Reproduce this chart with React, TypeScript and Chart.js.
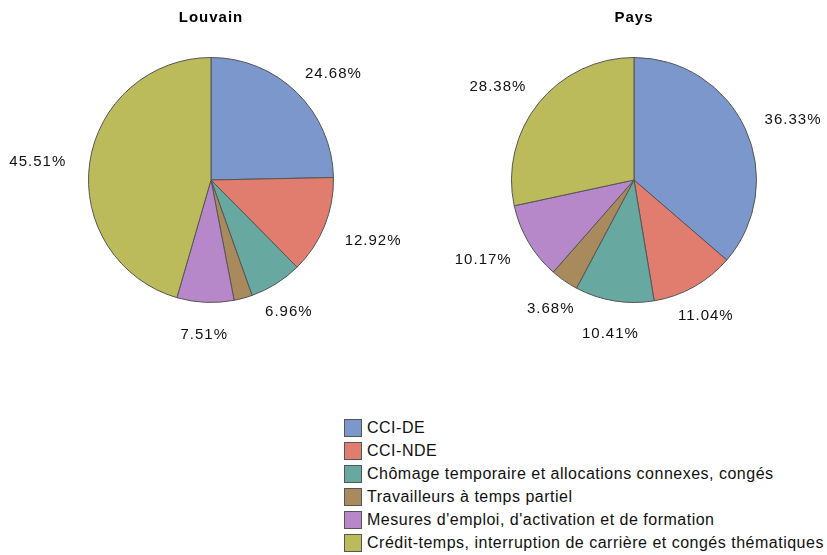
import React, { useEffect, useRef } from "react";
import { Chart, registerables } from "chart.js";

Chart.register(...registerables);

const categories = [
  "CCI-DE",
  "CCI-NDE",
  "Chômage temporaire et allocations connexes, congés",
  "Travailleurs à temps partiel",
  "Mesures d'emploi, d'activation et de formation",
  "Crédit-temps, interruption de carrière et congés thématiques",
];
const louvainValues = [24.68, 12.92, 6.96, 2.42, 7.51, 45.51];
const paysValues = [36.33, 11.04, 10.41, 3.68, 10.17, 28.38];
const colors = ["#7b97cc", "#e07d6f", "#67a8a0", "#a98a5c", "#b688c9", "#bcbb5b"];
const titles = ["Louvain", "Pays"];
const minLabelValue = 3;

const FONT = "'Liberation Sans', Arial, sans-serif";

const pieLabelPlugin = {
  id: "pieLabels",
  afterDatasetsDraw(chart: any, _args: any, opts: any) {
    const ctx = chart.ctx as CanvasRenderingContext2D;
    const meta = chart.getDatasetMeta(0);
    const values = chart.data.datasets[0].data as number[];
    ctx.save();
    ctx.font = `15px ${FONT}`;
    (ctx as any).letterSpacing = "1px";
    ctx.fillStyle = "#111";
    ctx.textAlign = "center";
    ctx.textBaseline = "middle";
    let cxTitle = 0;
    meta.data.forEach((arc: any, i: number) => {
      const p = arc.getProps(["x", "y", "startAngle", "endAngle", "outerRadius"], true);
      cxTitle = p.x;
      const v = values[i];
      if (v < minLabelValue) return;
      const mid = (p.startAngle + p.endAngle) / 2;
      const ux = Math.cos(mid);
      const uy = Math.sin(mid);
      const text = v.toFixed(2) + "%";
      const hw = ctx.measureText(text).width / 2;
      const hh = 6;
      const R = p.outerRadius + 24;
      const sideShift = Math.abs(ux) > 0.6 ? hw * ux : 0;
      const x = p.x + R * ux + sideShift;
      const y = p.y + R * uy + hh * uy + 3;
      ctx.fillText(text, x, y);
    });
    ctx.font = `bold 15px ${FONT}`;
    ctx.fillStyle = "#000";
    ctx.fillText(opts.title, cxTitle, 18);
    ctx.restore();
  },
};

function Pie(props: { title: string; values: number[]; width: number; height: number; padLeft: number; left: number }) {
  const ref = useRef<HTMLCanvasElement | null>(null);
  useEffect(() => {
    if (!ref.current) return;
    const size = 246;
    const chart = new Chart(ref.current, {
      type: "pie",
      data: {
        labels: categories,
        datasets: [
          {
            data: props.values,
            backgroundColor: colors,
            borderColor: "#555",
            borderWidth: 1,
          },
        ],
      },
      options: {
        responsive: false,
        animation: false,
        devicePixelRatio: 1,
        layout: {
          padding: {
            left: props.padLeft,
            right: props.width - props.padLeft - size,
            top: 57,
            bottom: props.height - 57 - size,
          },
        },
        plugins: {
          legend: { display: false },
          tooltip: { enabled: false },
          pieLabels: { title: props.title },
        } as any,
      },
      plugins: [pieLabelPlugin],
    });
    return () => chart.destroy();
  }, []);
  return (
    <canvas
      ref={ref}
      width={props.width}
      height={props.height}
      style={{ position: "absolute", left: props.left, top: 0, width: props.width, height: props.height }}
    />
  );
}

export default function App() {
  return (
    <div style={{ position: "absolute", left: 0, top: 0, width: 827, height: 555, background: "#fff", overflow: "hidden" }}>
      <Pie title={titles[0]} values={louvainValues} width={420} height={360} padLeft={88} left={0} />
      <Pie title={titles[1]} values={paysValues} width={407} height={360} padLeft={91} left={420} />
      <div style={{ position: "absolute", left: 344, top: 416.5, fontFamily: FONT, fontSize: 16, color: "#111", letterSpacing: "0.5px" }}>
        {categories.map((c, i) => (
          <div key={c} style={{ display: "flex", alignItems: "center", height: 23, whiteSpace: "nowrap" }}>
            <span
              style={{
                display: "inline-block",
                width: 16,
                height: 16,
                background: colors[i],
                border: "1px solid #555",
                marginRight: 5,
                flex: "none",
              }}
            />
            <span>{c}</span>
          </div>
        ))}
      </div>
    </div>
  );
}
